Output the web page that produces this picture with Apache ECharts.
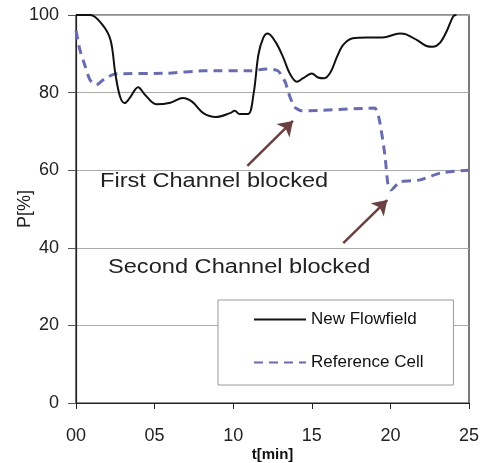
<!DOCTYPE html>
<html><head><meta charset="utf-8">
<script src="https://cdn.jsdelivr.net/npm/echarts@6/dist/echarts.min.js"></script>
<style>html,body{margin:0;padding:0;background:#fff}#c{width:482px;height:463px}</style>
</head><body><div id="c"></div>
<script>
var flowT = [0, 0.9, 1.7, 2.2, 2.5, 2.8, 3.1, 3.4, 3.95, 4.4, 5.1, 6.0, 6.8, 7.4, 8.1, 8.9, 9.8, 10.1, 10.4, 10.95, 11.3, 11.6, 11.9, 12.2, 12.7, 13.2, 13.6, 14.05, 14.45, 15.0, 15.4, 15.8, 16.2, 16.6, 17.0, 17.6, 18.5, 19.5, 20.6, 21.0, 21.7, 22.3, 22.7, 23.15, 23.6, 24.0, 24.2];
var flowP = [100, 100, 97.4, 93.5, 85, 79, 77.3, 78.5, 81.4, 79.4, 77, 77.4, 78.6, 77.6, 74.7, 73.7, 74.7, 75.3, 74.5, 74.5, 79.8, 89.7, 94, 95.2, 93, 88.9, 84.9, 82.8, 83.7, 84.9, 83.9, 83.7, 85.3, 89.2, 92.3, 94, 94.2, 94.2, 95.2, 95, 93.5, 92, 91.8, 92.8, 96, 99.7, 100];
var refT = [0, 0.25, 0.6, 0.9, 1.3, 1.85, 2.5, 5.8, 8.1, 11.1, 12.1, 12.85, 13.3, 13.6, 13.9, 14.35, 19.0, 19.3, 19.65, 19.85, 20.05, 20.6, 21.9, 23.2, 25];
var refP = [96, 91, 86.6, 83.2, 82, 83.7, 84.8, 85, 85.6, 85.6, 86.1, 85.6, 82.8, 79, 76.3, 75.3, 76, 72.9, 63.9, 56.2, 54.9, 57, 57.5, 59.3, 60];
var arrow1 = [[10.9, 61.1], [13.8, 72.7]];
var arrow2 = [[17.0, 41.2], [19.8, 52.3]];
var seriesNames = ['New Flowfield', 'Reference Cell'];
var note1 = 'First Channel blocked';
var note2 = 'Second Channel blocked';
var xTicks = ['00', '05', '10', '15', '20', '25'];

function pairs(a, b) { return a.map(function (v, i) { return [v, b[i]]; }); }

var chart = echarts.init(document.getElementById('c'), null, {renderer: 'canvas'});
var F = '"Liberation Sans", Arial, sans-serif';
chart.setOption({
  animation: false,
  backgroundColor: '#fff',
  grid: {left: 76, right: 13, top: 15, bottom: 60, show: true, borderColor: '#222', borderWidth: 1.2,
    containLabel: false, outerBoundsMode: 'none'},
  xAxis: {
    type: 'value', min: 0, max: 25, interval: 5,
    name: 't[min]', nameLocation: 'middle', nameGap: 44, nameMoveOverlap: false,
    nameTextStyle: {fontFamily: F, fontSize: 15, fontWeight: 'bold', color: '#111'},
    axisLine: {show: true, lineStyle: {color: '#222', width: 1.2}},
    axisTick: {show: true, length: 6, lineStyle: {color: '#222'}},
    axisLabel: {margin: 24, fontFamily: F, fontSize: 18, color: '#222',
      formatter: function (v) { return xTicks[Math.round(v / 5)]; }},
    splitLine: {show: false}
  },
  yAxis: {
    type: 'value', min: 0, max: 100, interval: 20,
    name: 'P[%]', nameLocation: 'middle', nameGap: 42, nameRotate: 90, nameMoveOverlap: false,
    nameTextStyle: {fontFamily: F, fontSize: 18, color: '#222'},
    axisLine: {show: true, lineStyle: {color: '#222', width: 1.2}},
    axisTick: {show: true, length: 8, lineStyle: {color: '#555'}},
    axisLabel: {margin: 17, fontFamily: F, fontSize: 18, color: '#222'},
    splitLine: {show: true, lineStyle: {color: '#aaa', width: 1}}
  },
  legend: {
    orient: 'vertical', left: 218, top: 300,
    padding: [11, 30, 14, 35], itemGap: 26, itemWidth: 52, itemHeight: 14,
    backgroundColor: '#fff', borderColor: '#999', borderWidth: 1,
    itemStyle: {opacity: 0},
    textStyle: {fontFamily: F, fontSize: 17, color: '#111'},
    data: seriesNames
  },
  series: [
    {name: seriesNames[0], type: 'line', data: pairs(flowT, flowP), smooth: 0.35,
      showSymbol: false, symbol: 'none', lineStyle: {color: '#111', width: 2}, itemStyle: {color: '#111'}, z: 3},
    {name: seriesNames[1], type: 'line', data: pairs(refT, refP), smooth: 0.2,
      showSymbol: false, symbol: 'none', lineStyle: {color: '#6b6bb0', width: 3, type: [9, 6]}, itemStyle: {color: '#6b6bb0'}, z: 2},
    {type: 'lines', coordinateSystem: 'cartesian2d', symbol: ['none', 'arrow'], symbolSize: 14,
      lineStyle: {color: '#6a4040', width: 2.5, opacity: 1},
      data: [{coords: arrow1}, {coords: arrow2}], z: 4}
  ],
  graphic: [
    {type: 'text', x: 100, y: 181, scaleX: 1.18, style: {text: note1, font: '20px ' + F, fill: '#222', verticalAlign: 'middle'}},
    {type: 'text', x: 108, y: 267, scaleX: 1.18, style: {text: note2, font: '20px ' + F, fill: '#222', verticalAlign: 'middle'}}
  ]
});
</script></body></html>
